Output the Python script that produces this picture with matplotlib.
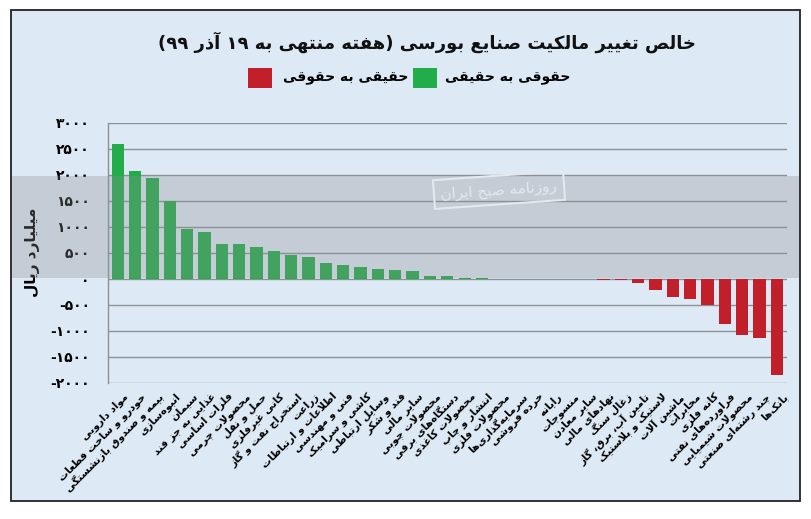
import re
import matplotlib
matplotlib.use("Agg")
import matplotlib.pyplot as plt
from matplotlib.patches import Rectangle
from matplotlib.transforms import ScaledTranslation

plt.rcParams['font.family'] = ['DejaVu Sans']

# ---- data ----
industries = [
    "مواد دارویی", "خودرو و ساخت قطعات", "بیمه و صندوق بازنشستگی", "انبوه\u200cسازی",
    "سیمان", "غذایی به جز قند", "فلزات اساسی", "محصولات چرمی", "حمل و نقل",
    "کانی غیرفلزی", "استخراج نفت و گاز", "زراعت", "اطلاعات و ارتباطات",
    "فنی و مهندسی", "کاشی و سرامیک", "وسایل ارتباطی", "قند و شکر", "سایر مالی",
    "محصولات چوبی", "دستگاه\u200cهای برقی", "محصولات کاغذی", "انتشار و چاپ",
    "محصولات فلزی", "سرمایه\u200cگذاری\u200cها", "خرده فروشی", "رایانه", "منسوجات",
    "سایر معادن", "نهادهای مالی", "زغال سنگ", "تامین آب، برق، گاز",
    "لاستیک و پلاستیک", "ماشین آلات", "مخابرات", "کانه فلزی",
    "فراورده\u200cهای نفتی", "محصولات شیمیایی", "چند رشته\u200cای صنعتی", "بانک\u200cها",
]
net_change = [
    2600, 2080, 1940, 1500, 970, 910, 680, 680, 620, 545, 470, 430, 315, 275,
    235, 195, 175, 155, 58, 55, 20, 10, 6, 4, 2, 0, -2, -4, -10, -12, -75,
    -220, -350, -385, -505, -865, -1070, -1135, -1850,
]
y_ticks = [-2000, -1500, -1000, -500, 0, 500, 1000, 1500, 2000, 2500, 3000]

title = "خالص تغییر مالکیت صنایع بورسی (هفته منتهی به ۱۹ آذر ۹۹)"
legend_pos = "حقوقی به حقیقی"
legend_neg = "حقیقی به حقوقی"
y_label = "میلیارد ریال"
stamp = "روزنامه صبح ایران"

GREEN = '#22ad4b'
RED = '#c11f2a'
BG = '#ddeaf5'

# ---- minimal Persian shaping (matplotlib does no Arabic shaping / bidi) ----
# char: (isolated, final, initial, medial)
FORMS = {
    'ء': ('\uFE80', None, None, None),
    'آ': ('\uFE81', '\uFE82', None, None),
    'أ': ('\uFE83', '\uFE84', None, None),
    'ا': ('\uFE8D', '\uFE8E', None, None),
    'ب': ('\uFE8F', '\uFE90', '\uFE91', '\uFE92'),
    'پ': ('\uFB56', '\uFB57', '\uFB58', '\uFB59'),
    'ت': ('\uFE95', '\uFE96', '\uFE97', '\uFE98'),
    'ث': ('\uFE99', '\uFE9A', '\uFE9B', '\uFE9C'),
    'ج': ('\uFE9D', '\uFE9E', '\uFE9F', '\uFEA0'),
    'چ': ('\uFB7A', '\uFB7B', '\uFB7C', '\uFB7D'),
    'ح': ('\uFEA1', '\uFEA2', '\uFEA3', '\uFEA4'),
    'خ': ('\uFEA5', '\uFEA6', '\uFEA7', '\uFEA8'),
    'د': ('\uFEA9', '\uFEAA', None, None),
    'ذ': ('\uFEAB', '\uFEAC', None, None),
    'ر': ('\uFEAD', '\uFEAE', None, None),
    'ز': ('\uFEAF', '\uFEB0', None, None),
    'ژ': ('\uFB8A', '\uFB8B', None, None),
    'س': ('\uFEB1', '\uFEB2', '\uFEB3', '\uFEB4'),
    'ش': ('\uFEB5', '\uFEB6', '\uFEB7', '\uFEB8'),
    'ص': ('\uFEB9', '\uFEBA', '\uFEBB', '\uFEBC'),
    'ض': ('\uFEBD', '\uFEBE', '\uFEBF', '\uFEC0'),
    'ط': ('\uFEC1', '\uFEC2', '\uFEC3', '\uFEC4'),
    'ظ': ('\uFEC5', '\uFEC6', '\uFEC7', '\uFEC8'),
    'ع': ('\uFEC9', '\uFECA', '\uFECB', '\uFECC'),
    'غ': ('\uFECD', '\uFECE', '\uFECF', '\uFED0'),
    'ف': ('\uFED1', '\uFED2', '\uFED3', '\uFED4'),
    'ق': ('\uFED5', '\uFED6', '\uFED7', '\uFED8'),
    'ک': ('\uFB8E', '\uFB8F', '\uFB90', '\uFB91'),
    'گ': ('\uFB92', '\uFB93', '\uFB94', '\uFB95'),
    'ل': ('\uFEDD', '\uFEDE', '\uFEDF', '\uFEE0'),
    'م': ('\uFEE1', '\uFEE2', '\uFEE3', '\uFEE4'),
    'ن': ('\uFEE5', '\uFEE6', '\uFEE7', '\uFEE8'),
    'و': ('\uFEED', '\uFEEE', None, None),
    'ه': ('\uFEE9', '\uFEEA', '\uFEEB', '\uFEEC'),
    'ی': ('\uFBFC', '\uFBFD', '\uFBFE', '\uFBFF'),
}
LAM_ALEF = {'ا': ('\uFEFB', '\uFEFC'), 'آ': ('\uFEF5', '\uFEF6'), 'أ': ('\uFEF7', '\uFEF8')}
DIGITS = '0123456789۰۱۲۳۴۵۶۷۸۹'


def fa(text):
    chars = list(text)
    out = []
    i = 0
    while i < len(chars):
        ch = chars[i]
        if ch not in FORMS:
            out.append(ch)
            i += 1
            continue
        prev = chars[i - 1] if i > 0 else None
        nxt = chars[i + 1] if i + 1 < len(chars) else None
        jp = prev in FORMS and FORMS[prev][2] is not None
        if ch == 'ل' and nxt in LAM_ALEF:
            out.append(LAM_ALEF[nxt][1 if jp else 0])
            i += 2
            continue
        jn = FORMS[ch][2] is not None and nxt in FORMS and FORMS[nxt][1] is not None
        iso, fin, ini, med = FORMS[ch]
        out.append(med if (jp and jn) else fin if jp else ini if jn else iso)
        i += 1
    s = ''.join(out).replace('\u200c', '')
    s = s[::-1].translate(str.maketrans('()', ')('))
    return re.sub('[%s]+' % DIGITS, lambda m: m.group(0)[::-1], s)


def fa_num(v):
    s = str(abs(v)).translate(str.maketrans('0123456789', '۰۱۲۳۴۵۶۷۸۹'))
    return ('-' if v < 0 else '') + s


# ---- figure ----
W, H = 811, 519
fig = plt.figure(figsize=(W / 100, H / 100), dpi=100, facecolor='white')
fig.add_artist(Rectangle((11 / W, 1 - 501 / H), 789 / W, 491 / H, transform=fig.transFigure,
                         facecolor=BG, edgecolor='#222222', linewidth=1.3, zorder=-5))

ax = fig.add_axes([108 / W, 1 - 383 / H, 679 / W, 260 / H])
ax.set_facecolor('none')

x = list(range(len(industries)))
colors = [GREEN if v >= 0 else RED for v in net_change]
ax.bar(x, net_change, width=0.71, color=colors, zorder=3)

ax.set_xlim(-0.56, 38.58)
ax.set_ylim(-2000, 3000)
ax.set_yticks(y_ticks)
ax.set_yticklabels([fa_num(v) for v in y_ticks], fontsize=10, fontweight='bold')
ax.yaxis.grid(True, color='#8d9196', linewidth=1.0, zorder=0)
ax.set_axisbelow(True)
ax.tick_params(axis='y', length=0, pad=13)
ax.tick_params(axis='x', length=0, pad=6)

ax.set_xticks(x)
ax.set_xticklabels([fa(s) for s in industries], rotation=45, ha='right', va='top',
                   rotation_mode='anchor', fontsize=7.5, fontweight='bold')
shift = ScaledTranslation(4 / 72, 0, fig.dpi_scale_trans)
for lab in ax.get_xticklabels():
    lab.set_transform(lab.get_transform() + shift)

for side in ['top', 'right', 'bottom']:
    ax.spines[side].set_visible(False)
ax.spines['left'].set_color('#8d9196')
ax.spines['left'].set_linewidth(1.0)

fig.text(33 / W, 1 - 252 / H, fa(y_label), rotation=90, ha='center', va='center',
         fontsize=11, fontweight='bold')

# title and legend
fig.text(427 / W, 1 - 42 / H, fa(title), ha='center', va='center', fontsize=13,
         fontweight='bold', color='#111111')
fig.add_artist(Rectangle((248 / W, 1 - 88 / H), 24 / W, 20 / H, transform=fig.transFigure,
                         facecolor=RED, edgecolor='none'))
fig.add_artist(Rectangle((413 / W, 1 - 88 / H), 24 / W, 20 / H, transform=fig.transFigure,
                         facecolor=GREEN, edgecolor='none'))
fig.text(408 / W, 1 - 78 / H, fa(legend_neg), ha='right', va='center', fontsize=10,
         fontweight='bold')
fig.text(570 / W, 1 - 78 / H, fa(legend_pos), ha='right', va='center', fontsize=10,
         fontweight='bold')

# watermark band and stamp
fig.add_artist(Rectangle((12 / W, 1 - 278 / H), 787 / W, 102 / H, transform=fig.transFigure,
                         facecolor='#8b8d8e', alpha=0.3, edgecolor='none', zorder=5))
fig.text(499 / W, 1 - 190 / H, fa(stamp), ha='center', va='center', fontsize=11,
         rotation=4, color='#e3e9ee', zorder=6,
         bbox=dict(boxstyle='square,pad=0.45', fc='none', ec='#e3e9ee', lw=1.5))

fig.savefig('out.png', dpi=100, facecolor='white')
